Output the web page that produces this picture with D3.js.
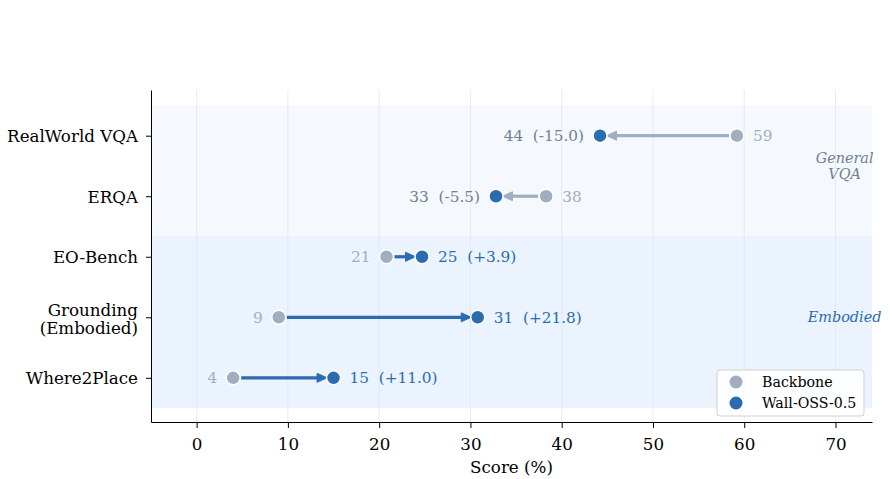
<!DOCTYPE html>
<html>
<head>
<meta charset="utf-8">
<script src="https://cdn.jsdelivr.net/npm/d3@7"></script>
<style>
  body { margin: 0; background: #fff; }
  svg text { font-family: "DejaVu Serif", serif; }
</style>
</head>
<body>
<div id="chart"></div>
<script>
// data
const tasks = ['RealWorld VQA', 'ERQA', 'EO-Bench', 'Grounding\n(Embodied)', 'Where2Place']
const backbone = [59.2, 38.3, 20.8, 9.0, 4.0]
const wallOss = [44.2, 32.8, 24.7, 30.8, 15.0]
const xTicks = [0, 10, 20, 30, 40, 50, 60, 70]
const groups = [
  { name: 'General\nVQA', from: -0.5, to: 1.65, labelRow: 0.5, fill: '#f5f8fc', color: '#718096' },
  { name: 'Embodied', from: 1.65, to: 4.5, labelRow: 3, fill: '#ebf3fe', color: '#2b6cb0' }
]

const width = 890
const height = 479
const margin = { top: 90, right: 18, bottom: 57, left: 151 }
const GREY = '#a0aec0'
const BLUE = '#2b6cb0'
const SLATE = '#718096'
const R = 7

const svg = d3.select('#chart').append('svg')
  .attr('width', width)
  .attr('height', height)

const x = d3.scaleLinear().domain([-5, 74]).range([margin.left, width - margin.right])
const y = d3.scaleLinear().domain([-0.755, 4.73]).range([margin.top, height - margin.bottom])

// background bands
svg.selectAll('.band')
  .data(groups)
  .enter().append('rect')
  .attr('class', 'band')
  .attr('x', x(-5))
  .attr('width', x(74) - x(-5))
  .attr('y', d => y(d.from))
  .attr('height', d => y(d.to) - y(d.from))
  .attr('fill', d => d.fill)

// vertical grid
svg.selectAll('.grid')
  .data(xTicks)
  .enter().append('line')
  .attr('x1', d => x(d)).attr('x2', d => x(d))
  .attr('y1', y.range()[0]).attr('y2', y.range()[1])
  .attr('stroke', '#dfe4ea')
  .attr('stroke-opacity', 0.7)
  .attr('stroke-width', 1)

// group labels
groups.forEach(function (g) {
  const lines = g.name.split('\n')
  const t = svg.append('text')
    .attr('x', x(71))
    .attr('y', y(g.labelRow))
    .attr('text-anchor', 'middle')
    .attr('font-style', 'italic')
    .attr('font-size', 14.4)
    .attr('fill', g.color)
  lines.forEach(function (l, i) {
    t.append('tspan')
      .attr('x', x(71))
      .attr('dy', i === 0 ? (0.35 - (lines.length - 1) * 0.55) + 'em' : '1.1em')
      .text(l)
  })
})

// arrows
const rows = tasks.map(function (t, i) {
  return { task: t, i: i, a: backbone[i], b: wallOss[i] }
})

rows.forEach(function (d) {
  const up = d.b >= d.a
  const col = up ? BLUE : GREY
  const dir = up ? 1 : -1
  const yy = y(d.i)
  const x0 = x(d.a) + dir * 8
  const tip = x(d.b) - dir * 6.5
  const headLen = 10
  const headHalf = 4.5
  svg.append('line')
    .attr('x1', x0).attr('x2', tip - dir * headLen + dir * 1)
    .attr('y1', yy).attr('y2', yy)
    .attr('stroke', col)
    .attr('stroke-width', 3.2)
  svg.append('path')
    .attr('d', 'M' + tip + ',' + yy +
      'L' + (tip - dir * headLen) + ',' + (yy - headHalf) +
      'L' + (tip - dir * headLen) + ',' + (yy + headHalf) + 'Z')
    .attr('fill', col)
    .attr('stroke', col)
    .attr('stroke-width', 1)
})

// points
svg.selectAll('.pt-back')
  .data(rows)
  .enter().append('circle')
  .attr('cx', d => x(d.a))
  .attr('cy', d => y(d.i))
  .attr('r', R)
  .attr('fill', GREY)
  .attr('stroke', '#fff')
  .attr('stroke-width', 1.5)

svg.selectAll('.pt-wall')
  .data(rows)
  .enter().append('circle')
  .attr('cx', d => x(d.b))
  .attr('cy', d => y(d.i))
  .attr('r', R)
  .attr('fill', BLUE)
  .attr('stroke', '#fff')
  .attr('stroke-width', 1.5)

// value labels
rows.forEach(function (d) {
  const up = d.b >= d.a
  const diff = d.b - d.a
  const diffStr = (diff >= 0 ? '+' : '') + diff.toFixed(1)
  const yy = y(d.i)
  svg.append('text')
    .attr('x', x(d.a) + (up ? -16 : 16))
    .attr('y', yy)
    .attr('dy', '0.35em')
    .attr('text-anchor', up ? 'end' : 'start')
    .attr('font-size', 15.3)
    .attr('fill', GREY)
    .text(Math.round(d.a))
  svg.append('text')
    .attr('x', x(d.b) + (up ? 16 : -16))
    .attr('y', yy)
    .attr('dy', '0.35em')
    .attr('text-anchor', up ? 'start' : 'end')
    .attr('font-size', 15.3)
    .attr('fill', up ? BLUE : SLATE)
    .text(Math.round(d.b) + '\u00a0\u00a0(' + diffStr + ')')
})

// axes
const xAxis = svg.append('g')
  .attr('transform', 'translate(0,' + y.range()[1] + ')')
  .call(d3.axisBottom(x).tickValues(xTicks).tickSize(6).tickPadding(10).tickSizeOuter(0))
xAxis.select('.domain').attr('stroke', '#000')
xAxis.selectAll('text').attr('font-size', 16.7).attr('fill', '#000')
  .attr('font-family', '"DejaVu Serif", serif')

const yAxis = svg.append('g')
  .attr('transform', 'translate(' + margin.left + ',0)')
  .call(d3.axisLeft(y).tickValues(d3.range(tasks.length)).tickSize(5).tickPadding(8).tickSizeOuter(0).tickFormat(''))
yAxis.select('.domain').attr('stroke', '#000')

yAxis.selectAll('.tick').each(function (i) {
  const lines = tasks[i].split('\n')
  const t = d3.select(this).append('text')
    .attr('x', -13)
    .attr('text-anchor', 'end')
    .attr('font-size', 16.7)
    .attr('fill', '#000')
    .attr('font-family', '"DejaVu Serif", serif')
  lines.forEach(function (l, k) {
    t.append('tspan')
      .attr('x', -13)
      .attr('dy', k === 0 ? (lines.length > 1 ? '-0.12em' : '0.35em') : '1.08em')
      .text(l)
  })
})

svg.append('text')
  .attr('x', (x.range()[0] + x.range()[1]) / 2)
  .attr('y', 473)
  .attr('text-anchor', 'middle')
  .attr('font-size', 16.7)
  .text('Score (%)')

// legend
const legend = svg.append('g').attr('transform', 'translate(717,370)')
legend.append('rect')
  .attr('width', 147).attr('height', 46)
  .attr('rx', 3)
  .attr('fill', '#fff').attr('fill-opacity', 0.85)
  .attr('stroke', '#d0d0d0')
const legendItems = [{ label: 'Backbone', color: GREY }, { label: 'Wall-OSS-0.5', color: BLUE }]
legendItems.forEach(function (it, i) {
  legend.append('circle')
    .attr('cx', 19).attr('cy', 12 + i * 21)
    .attr('r', 6.5).attr('fill', it.color)
  legend.append('text')
    .attr('x', 45).attr('y', 12 + i * 21)
    .attr('dy', '0.35em')
    .attr('font-size', 14.2)
    .text(it.label)
})
</script>
</body>
</html>
